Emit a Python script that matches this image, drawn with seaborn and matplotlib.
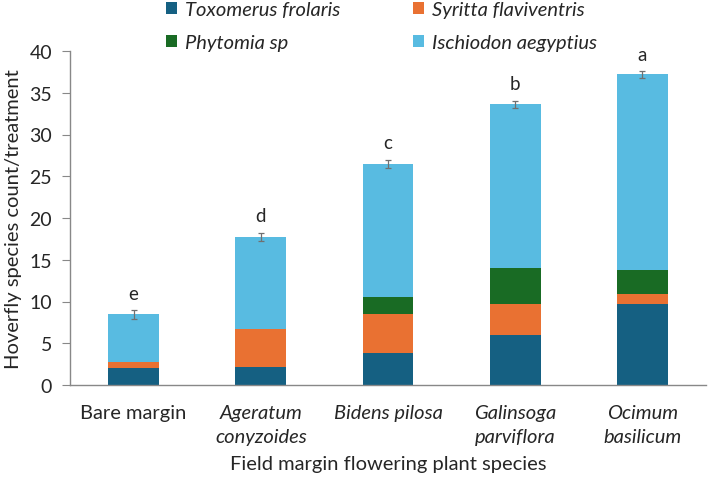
import numpy as np
import pandas as pd
import seaborn as sns
import matplotlib.pyplot as plt
from matplotlib.patches import Patch

# 数据：各处理下每种食蚜蝇的数量
treatments = ["Bare margin", "Ageratum\nconyzoides", "Bidens pilosa",
              "Galinsoga\nparviflora", "Ocimum\nbasilicum"]
species = ["Toxomerus frolaris", "Syritta flaviventris", "Phytomia sp", "Ischiodon aegyptius"]
toxomerus = [2.0, 2.2, 3.8, 6.0, 9.7]
syritta = [0.7, 4.5, 4.65, 3.7, 1.15]
phytomia = [0.0, 0.0, 2.05, 4.3, 2.95]
ischiodon = [5.75, 11.05, 16.0, 19.6, 23.4]
errors = [0.5, 0.5, 0.5, 0.45, 0.4]
letters = ["e", "d", "c", "b", "a"]

colors = ["#156082", "#E97132", "#196B24", "#58BBE1"]

sns.set_style("white")
plt.rcParams['font.family'] = ['Lato', 'DejaVu Sans']

df = pd.DataFrame({"treatment": treatments, "Toxomerus frolaris": toxomerus,
                   "Syritta flaviventris": syritta, "Phytomia sp": phytomia,
                   "Ischiodon aegyptius": ischiodon})
cum = df[species].cumsum(axis=1)

fig = plt.figure(figsize=(7.08, 4.85), dpi=100)
ax = fig.add_axes([70 / 708, 1 - 386 / 485, 636 / 708, (386 - 52) / 485])

# 堆叠柱状图：从最高的累计值往下画
for sp, col in reversed(list(zip(species, colors))):
    sns.barplot(x=df["treatment"], y=cum[sp], color=col, width=0.4,
                saturation=1, ax=ax, linewidth=0)

totals = cum["Ischiodon aegyptius"].values
xpos = np.arange(len(treatments))
ax.errorbar(xpos, totals, yerr=errors, fmt="none", ecolor="#707070",
            elinewidth=0.9, capsize=2.5, capthick=0.9)
for x, t, e, l in zip(xpos, totals, errors, letters):
    ax.text(x, t + e + 1.0, l, ha="center", va="bottom", fontsize=13.5)

ax.set_ylim(0, 40)
ax.set_xlim(-0.5, len(treatments) - 0.5)
ax.set_yticks(range(0, 41, 5))
ax.tick_params(axis="y", labelsize=14, length=6, color="#888888", direction="out", left=True, pad=7)
ax.tick_params(axis="x", length=0, pad=14)
ax.set_xticks(xpos)
ax.set_xticklabels(treatments, fontsize=14.5, linespacing=1.5)
for i, lab in enumerate(ax.get_xticklabels()):
    if i > 0:
        lab.set_style("italic")

for s in ["top", "right"]:
    ax.spines[s].set_visible(False)
for s in ["left", "bottom"]:
    ax.spines[s].set_color("#888888")
    ax.spines[s].set_linewidth(1.0)

ax.set_ylabel("Hoverfly species count/treatment", fontsize=14.5, labelpad=5)
ax.set_xlabel("Field margin flowering plant species", fontsize=14.5, labelpad=7)

# 图例按行排列：先 Toxomerus / Syritta，再 Phytomia / Ischiodon
order = [0, 2, 1, 3]
handles = [Patch(facecolor=colors[i], edgecolor="none") for i in order]
labels = [species[i] for i in order]
fig.legend(handles, labels, loc="upper left", bbox_to_anchor=(164 / 708, 1.0),
           ncol=2, frameon=False, prop={"size": 14.5, "style": "italic"},
           handlelength=0.55, handleheight=0.55, handletextpad=0.4,
           columnspacing=3.6, labelspacing=0.8, borderaxespad=0, borderpad=0.1)

fig.savefig("out.png", dpi=100)
